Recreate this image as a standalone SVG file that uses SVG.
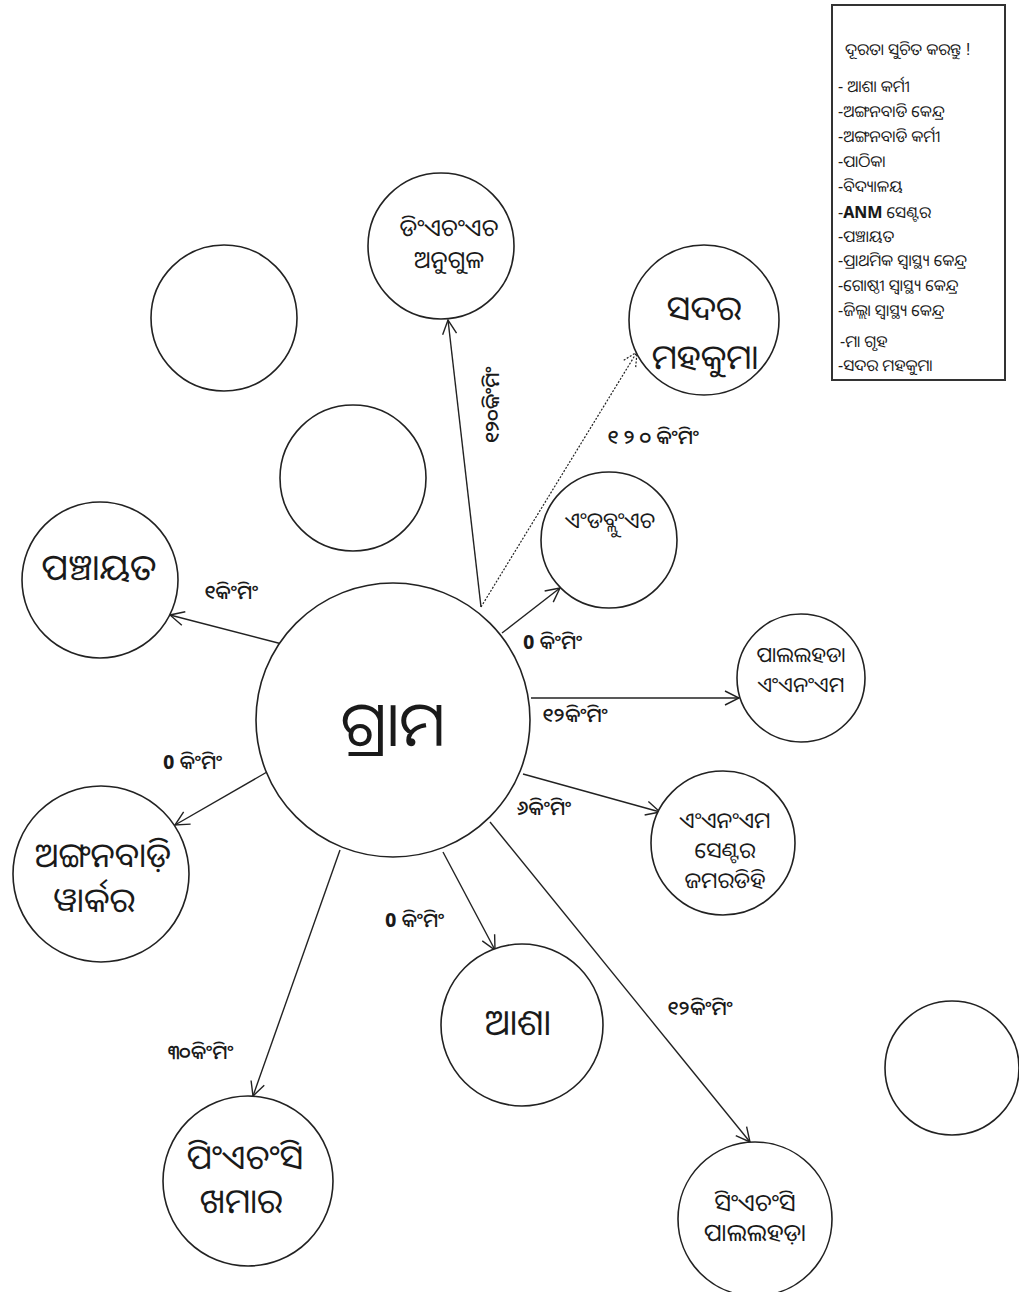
<svg xmlns="http://www.w3.org/2000/svg" width="1019" height="1292" viewBox="0 0 1019 1292">
<style>
text{font-family:"Noto Sans Oriya","Noto Sans","DejaVu Sans",sans-serif;fill:#1a1a1a;}
.c{fill:#fff;stroke:#222;stroke-width:1.6;}
.e{stroke:#222;stroke-width:1.4;fill:none;}
.d{stroke:#222;stroke-width:1.2;fill:none;stroke-dasharray:2,1.6;}
.lbl{font-size:20px;font-weight:500;}
.lg{font-size:16px;}
.n{text-anchor:middle;}
.b{font-weight:bold;}
</style>
<defs>
<marker id="ah" viewBox="0 0 16 16" refX="15" refY="8" markerWidth="16" markerHeight="16" markerUnits="userSpaceOnUse" orient="auto">
<path d="M1,1 L15,8 L1,15" fill="none" stroke="#222" stroke-width="1.4"/>
</marker>
<marker id="ahd" viewBox="0 0 16 16" refX="15" refY="8" markerWidth="16" markerHeight="16" markerUnits="userSpaceOnUse" orient="auto">
<path d="M1,1 L15,8 L1,15" fill="none" stroke="#222" stroke-width="1.2" stroke-dasharray="2,1.6"/>
</marker>
</defs>
<rect width="1019" height="1292" fill="#fff"/>

<g id="connectors">
<line class="e" x1="481" y1="607" x2="448" y2="320" marker-end="url(#ah)"/>
<line class="d" x1="481" y1="607" x2="637" y2="352" marker-end="url(#ahd)"/>
<line class="e" x1="502" y1="633" x2="560" y2="588" marker-end="url(#ah)"/>
<line class="e" x1="531" y1="698" x2="739" y2="698" marker-end="url(#ah)"/>
<line class="e" x1="523" y1="774" x2="660" y2="812" marker-end="url(#ah)"/>
<line class="e" x1="443" y1="852" x2="495" y2="950" marker-end="url(#ah)"/>
<line class="e" x1="490" y1="822" x2="750" y2="1142" marker-end="url(#ah)"/>
<line class="e" x1="340" y1="850" x2="253" y2="1096" marker-end="url(#ah)"/>
<line class="e" x1="267" y1="772" x2="175" y2="825" marker-end="url(#ah)"/>
<line class="e" x1="282" y1="644" x2="170" y2="615" marker-end="url(#ah)"/>
<text class="lbl" transform="translate(499,405) rotate(-90)" text-anchor="middle">୧୨୦କିଂମିଂ</text>
<text class="lbl" x="607" y="444">୧ ୨ ୦ କିଂମିଂ</text>
<text class="lbl" x="204" y="599">୧କିଂମିଂ</text>
<text class="lbl" x="163" y="769"><tspan class="b">0</tspan> କିଂମିଂ</text>
<text class="lbl" x="523" y="649"><tspan class="b">0</tspan> କିଂମିଂ</text>
<text class="lbl" x="542" y="722">୧୨କିଂମିଂ</text>
<text class="lbl" x="517" y="815">୬କିଂମିଂ</text>
<text class="lbl" x="385" y="927"><tspan class="b">0</tspan> କିଂମିଂ</text>
<text class="lbl" x="667" y="1015">୧୨କିଂମିଂ</text>
<text class="lbl" x="168" y="1059">୩୦କିଂମିଂ</text>
</g>

<g id="node-grama">
<circle class="c" cx="393" cy="720" r="137"/>
<text class="n" x="393" y="746" font-size="62">ଗ୍ରାମ</text>
</g>
<g id="node-dhh">
<circle class="c" cx="441" cy="246" r="73"/>
<text class="n" x="449" y="236" font-size="24">ଡିଂଏଚଂଏଚ</text>
<text class="n" x="449" y="268" font-size="24">ଅନୁଗୁଳ</text>
</g>
<g id="node-sadar">
<circle class="c" cx="704" cy="320" r="75"/>
<text class="n" x="704" y="320" font-size="34">ସଦର</text>
<text class="n" x="705" y="369" font-size="34">ମହକୁମା</text>
</g>
<g id="node-empty1">
<circle class="c" cx="224" cy="318" r="73"/>
</g>
<g id="node-empty2">
<circle class="c" cx="353" cy="478" r="73"/>
</g>
<g id="node-awh">
<circle class="c" cx="609" cy="540" r="68"/>
<text class="n" x="610" y="528" font-size="22">ଏଂଡବ୍ଲୁଂଏଚ</text>
</g>
<g id="node-panchayat">
<circle class="c" cx="100" cy="580" r="78"/>
<text class="n" x="99" y="580" font-size="36">ପଞ୍ଚାୟତ</text>
</g>
<g id="node-pal-anm">
<circle class="c" cx="801" cy="678" r="64"/>
<text class="n" x="801" y="662" font-size="21">ପାଲଲହଡା</text>
<text class="n" x="801" y="692" font-size="21">ଏଂଏନଂଏମ</text>
</g>
<g id="node-anm-center">
<circle class="c" cx="723" cy="843" r="72"/>
<text class="n" x="725" y="828" font-size="22">ଏଂଏନଂଏମ</text>
<text class="n" x="725" y="858" font-size="22">ସେଣ୍ଟର</text>
<text class="n" x="725" y="888" font-size="22">ଜମରଡିହି</text>
</g>
<g id="node-anganwadi">
<circle class="c" cx="101" cy="874" r="88"/>
<text class="n" x="103" y="867" font-size="34">ଅଙ୍ଗନବାଡ଼ି</text>
<text class="n" x="94" y="912" font-size="34">ୱାର୍କର</text>
</g>
<g id="node-asha">
<circle class="c" cx="522" cy="1025" r="81"/>
<text class="n" x="518" y="1035" font-size="36">ଆଶା</text>
</g>
<g id="node-phc">
<circle class="c" cx="248" cy="1181" r="85"/>
<text class="n" x="245" y="1169" font-size="34">ପିଂଏଚଂସି</text>
<text class="n" x="241" y="1213" font-size="34">ଖମାର</text>
</g>
<g id="node-chc">
<circle class="c" cx="755" cy="1219" r="77"/>
<text class="n" x="755" y="1211" font-size="24">ସିଂଏଚଂସି</text>
<text class="n" x="755" y="1241" font-size="24">ପାଲଲହଡ଼ା</text>
</g>
<g id="node-empty3">
<circle class="c" cx="952" cy="1068" r="67"/>
</g>

<g id="legend">
<rect x="832" y="5" width="173" height="375" fill="#fff" stroke="#333" stroke-width="2"/>
<text class="lg" x="845" y="55">ଦୂରତା ସୁଚିତ କରନ୍ତୁ !</text>
<text class="lg" x="838" y="92">- ଆଶା କର୍ମୀ</text>
<text class="lg" x="838" y="117">-ଅଙ୍ଗନବାଡି କେନ୍ଦ୍ର</text>
<text class="lg" x="838" y="142">-ଅଙ୍ଗନବାଡି କର୍ମୀ</text>
<text class="lg" x="838" y="167">-ପାଠିକା</text>
<text class="lg" x="838" y="192">-ବିଦ୍ୟାଳୟ</text>
<text class="lg" x="838" y="218">-<tspan class="b">ANM</tspan> ସେଣ୍ଟର</text>
<text class="lg" x="838" y="242">-ପଞ୍ଚାୟତ</text>
<text class="lg" x="838" y="266">-ପ୍ରାଥମିକ ସ୍ୱାସ୍ଥ୍ୟ କେନ୍ଦ୍ର</text>
<text class="lg" x="838" y="291">-ଗୋଷ୍ଠୀ ସ୍ୱାସ୍ଥ୍ୟ କେନ୍ଦ୍ର</text>
<text class="lg" x="838" y="316">-ଜିଲ୍ଲା ସ୍ୱାସ୍ଥ୍ୟ କେନ୍ଦ୍ର</text>
<text class="lg" x="840" y="347">-ମା ଗୃହ</text>
<text class="lg" x="838" y="371">-ସଦର ମହକୁମା</text>
</g>
</svg>
